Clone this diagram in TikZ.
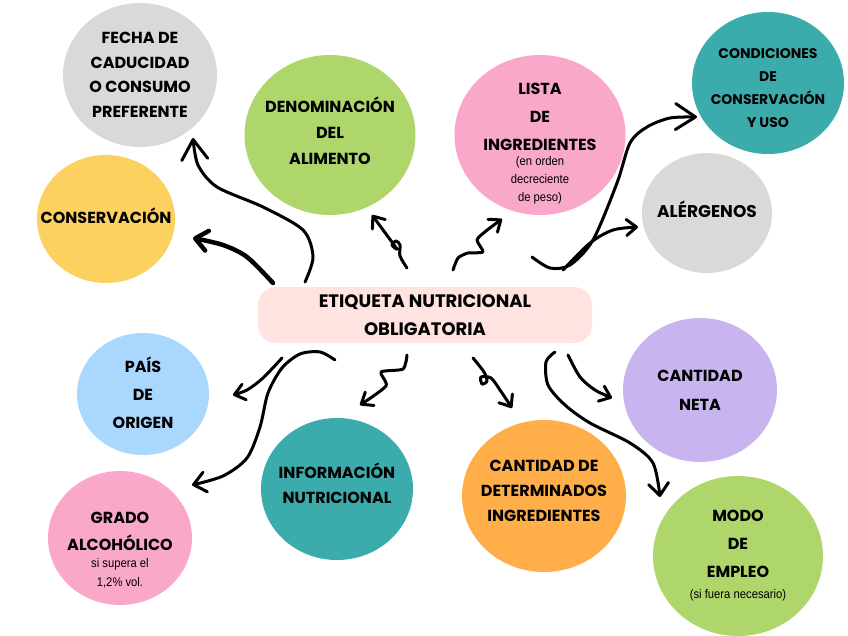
\documentclass[tikz,border=0pt]{standalone}
\usepackage{fontspec}
\setmainfont{Poppins}
\newfontfamily\notefont[FakeStretch=0.9]{Liberation Sans}
\usetikzlibrary{shapes.geometric}
\usetikzlibrary{arrows.meta}
\definecolor{grisc}{HTML}{D9D9D9}
\definecolor{verdec}{HTML}{AED66A}
\definecolor{amarc}{HTML}{FCD15F}
\definecolor{rosac}{HTML}{F9A8CA}
\definecolor{turq}{HTML}{3BABAC}
\definecolor{azulc}{HTML}{AAD7FD}
\definecolor{naranc}{HTML}{FFAE4A}
\definecolor{lilac}{HTML}{C8B4EE}
\definecolor{rosap}{HTML}{FFE3E0}
\newcommand{\nota}[1]{{\notefont\mdseries\fontsize{12.5}{15}\selectfont #1}}
\tikzset{
    blob/.style = {ellipse, draw=none, inner sep=0pt},
    blabel/.style = {align=center, inner sep=0pt, font=\bfseries\fontsize{16}{#1}\selectfont},
    blabel/.default = 25,
    tagbox/.style = {rectangle, draw=none, fill=rosap, rounded corners=18pt, align=center, minimum width=334, minimum height=56, font=\bfseries\fontsize{18}{28}\selectfont},
    edgen/.style = {-{Straight Barb[length=12pt,width=20pt,round]}, line width=3pt, line cap=round, line join=round},
    edgeb/.style = {edgen, -{Straight Barb[length=20pt,width=26pt,round]}},
    edges/.style = {edgen, -{Straight Barb[length=10pt,width=16pt,round]}},
}
\begin{document}
\begin{tikzpicture}[x=1pt,y=-1pt]
\useasboundingbox (0,0) rectangle (848,636);
%
\node[blob, fill=grisc, minimum width=154, minimum height=144, label={[blabel=24.5]center:{FECHA DE\\CADUCIDAD\\O CONSUMO\\PREFERENTE}}] at (140,75) (fecha) {};
\node[blob, fill=verdec, minimum width=171, minimum height=160, label={[blabel=26, yshift=4]center:{DENOMINACIÓN\\DEL\\ALIMENTO}}] at (330,135) (denom) {};
\node[blob, fill=amarc, minimum width=138, minimum height=128, label={[blabel, yshift=3]center:{CONSERVACIÓN}}] at (106,219) (conserv) {};
\node[blob, fill=rosac, minimum width=171, minimum height=160, label={[blabel=28, yshift=-9]center:{LISTA\\DE\\INGREDIENTES\\[-13pt]\nota{(en orden}\\[-10pt]\nota{decreciente}\\[-10pt]\nota{de peso)}}}] at (540,135) (lista) {};
\node[blob, fill=turq, minimum width=152, minimum height=142, label={[blabel, font=\bfseries\fontsize{14}{23}\selectfont, yshift=-5]center:{CONDICIONES\\DE\\CONSERVACIÓN\\Y USO}}] at (768,83) (condic) {};
\node[blob, fill=grisc, minimum width=130, minimum height=120, label={[blabel, font=\bfseries\fontsize{17}{25}\selectfont, yshift=4]center:{ALÉRGENOS}}] at (707,213) (alerg) {};
\node[blob, fill=azulc, minimum width=132, minimum height=122, label={[blabel=28, yshift=1]center:{PAÍS\\DE\\ORIGEN}}] at (143,394) (pais) {};
\node[blob, fill=rosac, minimum width=144, minimum height=134, label={[blabel=27, yshift=-12]center:{GRADO\\ALCOHÓLICO\\[-10pt]\nota{si supera el}\\[-8pt]\nota{1,2\% vol.}}}] at (120,538) (grado) {};
\node[blob, fill=turq, minimum width=152, minimum height=142, label={[blabel, yshift=6]center:{INFORMACIÓN\\NUTRICIONAL}}] at (337,489) (info) {};
\node[blob, fill=naranc, minimum width=164, minimum height=152, label={[blabel, yshift=5]center:{CANTIDAD DE\\DETERMINADOS\\INGREDIENTES}}] at (544,496) (cantdet) {};
\node[blob, fill=lilac, minimum width=154, minimum height=144, label={[blabel=29]center:{CANTIDAD\\NETA}}] at (700,390) (neta) {};
\node[blob, fill=verdec, minimum width=170, minimum height=160, label={[blabel=28]center:{MODO\\DE\\EMPLEO\\[-7pt]\nota{(si fuera necesario)}}}] at (738,556) (modo) {};
\node[tagbox] at (425,315) (tag) {ETIQUETA NUTRICIONAL\\OBLIGATORIA};
%
% arrow ends
\coordinate (sFecha) at (305,282);   \coordinate (tFecha) at (193,138);
\coordinate (sConserv) at (273,283); \coordinate (tConserv) at (193,238);
\coordinate (sDenom) at (407,268);   \coordinate (tDenom) at (372,215);
\coordinate (sLista) at (453,270);   \coordinate (tLista) at (502,219);
\coordinate (sCondic) at (532,257);  \coordinate (tCondic) at (697,117);
\coordinate (sAlerg) at (563,270);   \coordinate (tAlerg) at (638,227);
\coordinate (sPais) at (282,358);    \coordinate (tPais) at (233,395);
\coordinate (sGrado) at (335,360);   \coordinate (tGrado) at (192,485);
\coordinate (sInfo) at (407,355);    \coordinate (tInfo) at (360,405);
\coordinate (sCantdet) at (473,358); \coordinate (tCantdet) at (512,408);
\coordinate (sNeta) at (568,355);    \coordinate (tNeta) at (612,398);
\coordinate (sModo) at (555,352);    \coordinate (tModo) at (660,497);
%
\draw[edgeb] plot[smooth] coordinates {(sFecha) (313,257) (303,230) (263,207) (217,187) (198,165) (tFecha)};
\draw[edgen, line width=4.5pt] plot[smooth] coordinates {(sConserv) (247,257) (223,245) (tConserv)};
\draw[edges] plot[smooth] coordinates {(sDenom) (400,256) (400,245) (396,241) (392,245) (397,249) (386,234) (tDenom)};
\draw[edges] plot[smooth, tension=0.4] coordinates {(sLista) (458,258) (468,253) (483,252) (477,240) (486,231) (tLista)};
\draw[edgeb] plot[smooth] coordinates {(sCondic) (550,268) (570,265) (593,240) (617,183) (630,143) (647,127) (670,118) (tCondic)};
\draw[edges] plot[smooth] coordinates {(sAlerg) (590,243) (613,230) (tAlerg)};
\draw[edges] plot[smooth] coordinates {(sPais) (263,378) (247,390) (tPais)};
\draw[edgen] plot[smooth] coordinates {(sGrado) (320,352) (300,354) (282,368) (268,393) (260,427) (247,458) (223,476) (tGrado)};
\draw[edges] plot[smooth, tension=0.4] coordinates {(sInfo) (403,369) (381,372) (386,386) (tInfo)};
\draw[edges] plot[smooth] coordinates {(sCantdet) (484,372) (487,381) (482,384) (481,377) (491,378) (500,390) (tCantdet)};
\draw[edges] plot[smooth] coordinates {(sNeta) (580,377) (595,390) (tNeta)};
\draw[edgen] plot[smooth] coordinates {(sModo) (546,362) (548,385) (565,405) (590,423) (630,443) (653,463) (tModo)};
\end{tikzpicture}
\end{document}
